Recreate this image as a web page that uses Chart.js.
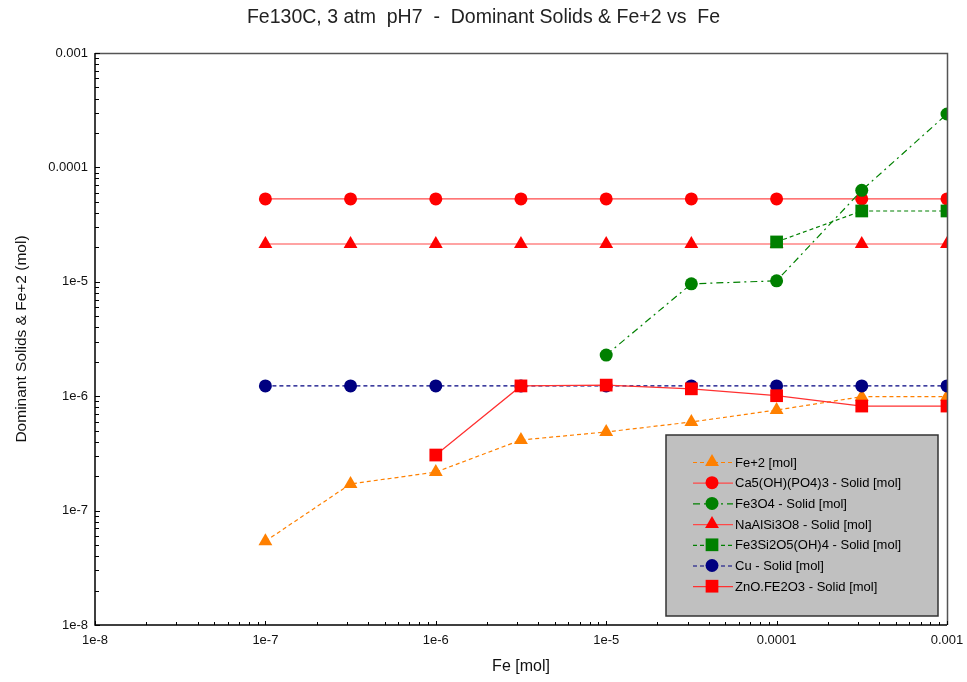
<!DOCTYPE html>
<html lang="en">
  <head>
    <meta charset="UTF-8" />
    <title>Fe130C</title>
    <script src="https://cdn.jsdelivr.net/npm/chart.js"></script>
    <style>
      body { margin: 0; background: #fff; }
    </style>
  </head>
  <body>
    <canvas id="chart" width="967" height="682"></canvas>
    <script>
      // Fe [mol] steps
      const fe = [1e-7, 3.16e-7, 1e-6, 3.16e-6, 1e-5, 3.16e-5, 1e-4, 3.16e-4, 1e-3];

      const fe2 = [5.4e-8, 1.71e-7, 2.17e-7, 4.14e-7, 4.87e-7, 5.95e-7, 7.57e-7, 9.9e-7, 9.9e-7];
      const ca5 = [5.3e-5, 5.3e-5, 5.3e-5, 5.3e-5, 5.3e-5, 5.3e-5, 5.3e-5, 5.3e-5, 5.3e-5];
      const fe3o4 = [null, null, null, null, 2.29e-6, 9.6e-6, 1.02e-5, 6.3e-5, 2.93e-4];
      const naal = [2.14e-5, 2.14e-5, 2.14e-5, 2.14e-5, 2.14e-5, 2.14e-5, 2.14e-5, 2.14e-5, 2.14e-5];
      const fe3si = [null, null, null, null, null, null, 2.23e-5, 4.16e-5, 4.16e-5];
      const cu = [1.23e-6, 1.23e-6, 1.23e-6, 1.23e-6, 1.23e-6, 1.23e-6, 1.23e-6, 1.23e-6, 1.23e-6];
      const zno = [null, null, 3.06e-7, 1.23e-6, 1.25e-6, 1.16e-6, 1.01e-6, 8.2e-7, 8.2e-7];

      const tickValues = [1e-8, 1e-7, 1e-6, 1e-5, 1e-4, 1e-3];
      const tickLabels = ["1e-8", "1e-7", "1e-6", "1e-5", "0.0001", "0.001"];

      const FONT = "'Liberation Sans', Arial, sans-serif";

      function pts(ys) {
        const out = [];
        for (let i = 0; i < fe.length; i++) {
          if (ys[i] != null) out.push({ x: fe[i], y: ys[i] });
        }
        return out;
      }

      function series(label, ys, color, dash, style, radius, order, lineColor) {
        return {
          label: label,
          data: pts(ys),
          borderColor: lineColor || color,
          backgroundColor: color,
          pointBackgroundColor: color,
          pointBorderColor: color,
          pointBorderWidth: 0,
          borderWidth: 1.2,
          borderDash: dash,
          pointStyle: style,
          pointRadius: radius,
          pointHoverRadius: radius,
          order: order,
        };
      }

      function labelFor(v) {
        for (let i = 0; i < tickValues.length; i++) {
          if (Math.abs(v / tickValues[i] - 1) < 1e-6) return tickLabels[i];
        }
        return "";
      }

      function keepIntegerTicks(scale) {
        scale.ticks = scale.ticks.filter(function (t) {
          const e = Math.floor(Math.log10(t.value) + 1e-9);
          const m = t.value / Math.pow(10, e);
          return Math.abs(m - Math.round(m)) < 1e-6;
        });
      }

      // frame + inward tick marks
      const framePlugin = {
        id: "frame",
        afterDatasetsDraw(chart) {
          const ctx = chart.ctx;
          const a = chart.chartArea;
          ctx.save();
          ctx.strokeStyle = "#555";
          ctx.lineWidth = 1.5;
          ctx.beginPath();
          ctx.moveTo(a.left, a.top + 0.5);
          ctx.lineTo(a.right + 0.5, a.top + 0.5);
          ctx.lineTo(a.right + 0.5, a.bottom);
          ctx.stroke();
          ctx.strokeStyle = "#000";
          ctx.lineWidth = 1.5;
          ctx.beginPath();
          ctx.moveTo(a.left, a.top);
          ctx.lineTo(a.left, a.bottom);
          ctx.lineTo(a.right, a.bottom);
          ctx.stroke();
          ctx.lineWidth = 1;
          const ys = chart.scales.y;
          ys.ticks.forEach(function (t) {
            const p = Math.round(ys.getPixelForValue(t.value)) + 0.5;
            const len = labelFor(t.value) ? 5 : 4;
            ctx.beginPath();
            ctx.moveTo(a.left, p);
            ctx.lineTo(a.left + len, p);
            ctx.stroke();
          });
          const xs = chart.scales.x;
          xs.ticks.forEach(function (t) {
            const p = Math.round(xs.getPixelForValue(t.value)) + 0.5;
            const len = labelFor(t.value) ? 4 : 3;
            ctx.beginPath();
            ctx.moveTo(p, a.bottom);
            ctx.lineTo(p, a.bottom - len);
            ctx.stroke();
          });
          ctx.restore();
        },
      };

      function drawMarker(ctx, style, x, y, r) {
        ctx.beginPath();
        if (style === "circle") {
          ctx.arc(x, y, r, 0, Math.PI * 2);
        } else if (style === "triangle") {
          const h = r * 1.5;
          const w = r * Math.sqrt(3);
          ctx.moveTo(x, y - r);
          ctx.lineTo(x + w / 2, y - r + h);
          ctx.lineTo(x - w / 2, y - r + h);
          ctx.closePath();
        } else {
          const s = r * Math.SQRT1_2;
          ctx.rect(x - s, y - s, s * 2, s * 2);
        }
        ctx.fill();
      }

      // legend box inside the plot area, bottom right
      const legendPlugin = {
        id: "boxLegend",
        afterDraw(chart) {
          const ctx = chart.ctx;
          const a = chart.chartArea;
          const bx = a.right - 281;
          const by = a.bottom - 190;
          const bw = 272;
          const bh = 181;
          ctx.save();
          ctx.fillStyle = "#c0c0c0";
          ctx.fillRect(bx, by, bw, bh);
          ctx.strokeStyle = "#333";
          ctx.lineWidth = 1.5;
          ctx.strokeRect(bx, by, bw, bh);
          chart.data.datasets.forEach(function (ds, i) {
            const y = by + 27 + i * 20.7;
            ctx.strokeStyle = ds.borderColor;
            ctx.lineWidth = 1.2;
            ctx.setLineDash(ds.borderDash || []);
            ctx.beginPath();
            ctx.moveTo(bx + 27, y + 0.5);
            ctx.lineTo(bx + 67, y + 0.5);
            ctx.stroke();
            ctx.setLineDash([]);
            ctx.fillStyle = ds.pointBackgroundColor;
            drawMarker(ctx, ds.pointStyle, bx + 46, y, ds.pointRadius);
            ctx.fillStyle = "#000";
            ctx.font = "13px " + FONT;
            ctx.textBaseline = "middle";
            ctx.textAlign = "left";
            ctx.fillText(ds.label, bx + 69, y + 1);
          });
          ctx.restore();
        },
      };

      const ctx = document.getElementById("chart");
      const myChart = new Chart(ctx, {
        type: "line",
        data: {
          datasets: [
            series("Fe+2 [mol]", fe2, "#ff8000", [4, 3], "triangle", 8, 7),
            series("Ca5(OH)(PO4)3 - Solid [mol]", ca5, "#ff0000", [], "circle", 6.5, 6, "#ff4848"),
            series("Fe3O4 - Solid [mol]", fe3o4, "#008000", [7, 4, 2, 4], "circle", 6.5, 1),
            series("NaAlSi3O8 - Solid [mol]", naal, "#ff0000", [], "triangle", 8, 5, "#ff4848"),
            series("Fe3Si2O5(OH)4 - Solid [mol]", fe3si, "#008000", [4, 3], "rect", 9, 2),
            series("Cu - Solid [mol]", cu, "#000080", [4, 3], "circle", 6.5, 4),
            series("ZnO.FE2O3 - Solid [mol]", zno, "#ff0000", [], "rect", 9, 3, "#ff3030"),
          ],
        },
        options: {
          responsive: false,
          animation: false,
          devicePixelRatio: 1,
          layout: { padding: { left: 0, right: 0, top: 0, bottom: 0 } },
          plugins: {
            legend: { display: false },
            tooltip: { enabled: false },
            title: {
              display: true,
              text: "Fe130C, 3 atm  pH7  -  Dominant Solids & Fe+2 vs  Fe",
              color: "#222",
              font: { family: FONT, size: 19.5, weight: "normal" },
              padding: { top: 6, bottom: 23.6 },
            },
          },
          scales: {
            x: {
              type: "logarithmic",
              min: 1e-8,
              max: 1e-3,
              grid: { display: false, drawTicks: false },
              border: { display: false },
              afterBuildTicks: keepIntegerTicks,
              afterFit: function (s) {
                s.height = 57;
                s.paddingLeft = 0;
                s.paddingRight = 20;
              },
              ticks: {
                autoSkip: false,
                maxRotation: 0,
                padding: 8,
                color: "#111",
                font: { family: FONT, size: 13 },
                callback: function (v) { return labelFor(v); },
              },
              title: {
                display: true,
                text: "Fe [mol]",
                color: "#111",
                font: { family: FONT, size: 16 },
                padding: { top: 0, bottom: 6 },
              },
            },
            y: {
              type: "logarithmic",
              min: 1e-8,
              max: 1e-3,
              grid: { display: false, drawTicks: false },
              border: { display: false },
              afterBuildTicks: keepIntegerTicks,
              afterFit: function (s) { s.width = 95; },
              ticks: {
                autoSkip: false,
                padding: 7,
                color: "#111",
                font: { family: FONT, size: 13 },
                callback: function (v) { return labelFor(v); },
              },
              title: {
                display: true,
                text: "Dominant Solids & Fe+2 (mol)",
                color: "#111",
                font: { family: FONT, size: 15.5 },
                padding: { top: 12, bottom: 0 },
              },
            },
          },
        },
        plugins: [framePlugin, legendPlugin],
      });
    </script>
  </body>
</html>
